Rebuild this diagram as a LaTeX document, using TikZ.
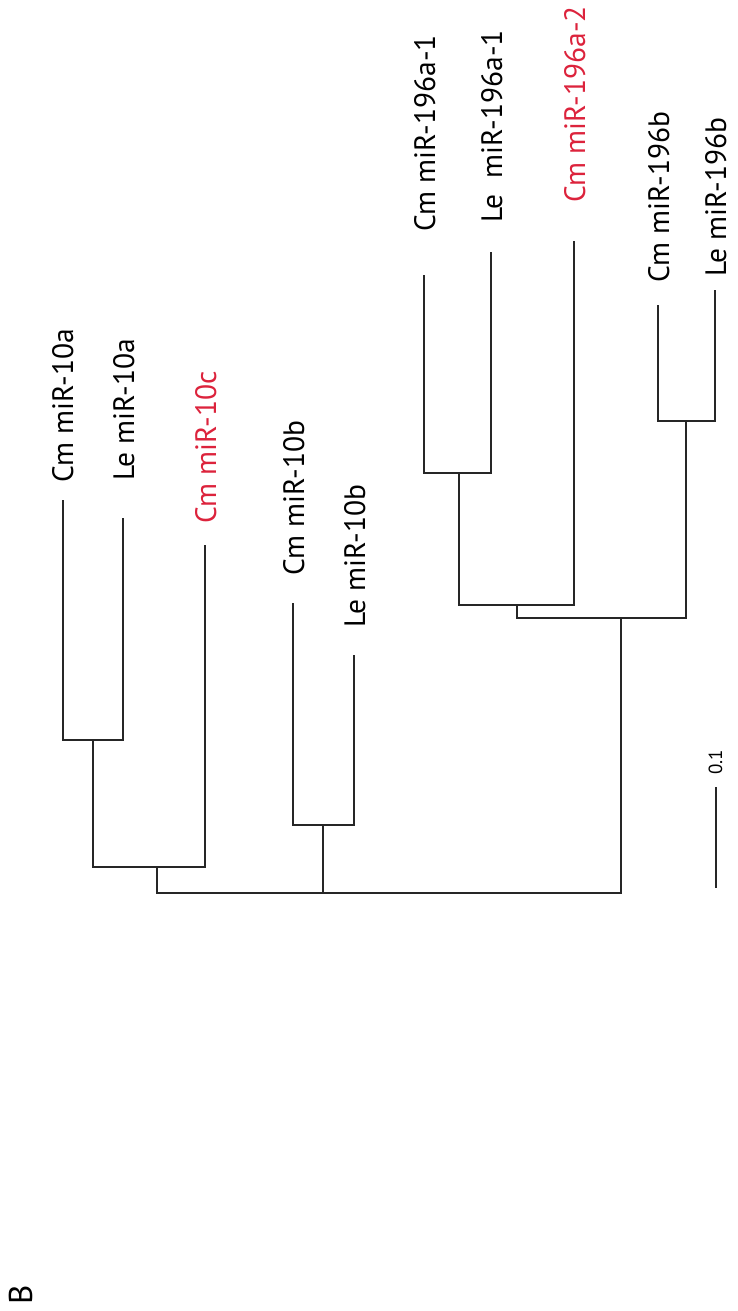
\documentclass[tikz,border=0pt]{standalone}
\usepackage{fontspec}
\setmainfont{PT Sans}
\definecolor{mired}{RGB}{220,35,60}
\begin{document}
\begin{tikzpicture}[x=1pt,y=-1pt,
  branch/.style={line width=2pt,line join=miter,black!85},
  leaf/.style={rotate=90,anchor=base west,inner sep=0pt,font=\fontsize{29.5}{30}\selectfont},
  hl/.style={text=mired}]
\useasboundingbox (0,0) rectangle (738,1311);
% leaf tips
\coordinate (cm10a) at (63,500);
\coordinate (le10a) at (123,518);
\coordinate (cm10c) at (205,545);
\coordinate (cm10b) at (293,603);
\coordinate (le10b) at (354,655);
\coordinate (cm196a1) at (424,275);
\coordinate (le196a1) at (491,252);
\coordinate (cm196a2) at (574,241);
\coordinate (cm196b) at (658,305);
\coordinate (le196b) at (715,290);
% internal nodes
\coordinate (n10a) at (93,740);
\coordinate (n10ac) at (157,867);
\coordinate (n10b) at (323,825);
\coordinate (n196a1) at (459,473);
\coordinate (n196a) at (517,605);
\coordinate (n196b) at (686,421);
\coordinate (n196) at (621,618);
\coordinate (root) at (390,893);
% branches
\draw[branch] (cm10a) |- (le10a |- n10a) -- (le10a);
\draw[branch] (n10a) |- (cm10c |- n10ac) -- (cm10c);
\draw[branch] (cm10b) |- (le10b |- n10b) -- (le10b);
\draw[branch] (cm196a1) |- (le196a1 |- n196a1) -- (le196a1);
\draw[branch] (n196a1) |- (cm196a2 |- n196a) -- (cm196a2);
\draw[branch] (cm196b) |- (le196b |- n196b) -- (le196b);
\draw[branch] (n196a) |- (n196b |- n196) -- (n196b);
\draw[branch] (n10ac) |- (n196 |- root) -- (n196);
\draw[branch] (root -| n10b) -- (n10b);
% labels
\node[leaf] (tcm10a) at (73,483) {Cm miR-10a};
\node[leaf] (tle10a) at (134,481) {Le miR-10a};
\node[leaf,hl] (tcm10c) at (216,524) {Cm miR-10c};
\node[leaf] (tcm10b) at (304,576) {Cm miR-10b};
\node[leaf] (tle10b) at (365,628) {Le miR-10b};
\node[leaf] (tcm196a1) at (435,232) {Cm miR-196a-1};
\node[leaf] (tle196a1) at (502,223) {Le\ \ miR-196a-1};
\node[leaf,hl] (tcm196a2) at (585,203) {Cm miR-196a-2};
\node[leaf] (tcm196b) at (669,283) {Cm miR-196b};
\node[leaf] (tle196b) at (726,277) {Le miR-196b};
% scale bar
\coordinate (sb1) at (716,787);
\coordinate (sb2) at (716,888);
\draw[branch] (sb1) -- (sb2);
\node[rotate=90,anchor=base west,inner sep=0pt,font=\fontsize{19}{19}\selectfont] (sbl) at (722,775) {0.1};
% panel letter
\node[rotate=90,anchor=base west,inner sep=0pt,font=\fontsize{33}{33}\selectfont] (panel) at (32,1305) {B};
\end{tikzpicture}
\end{document}
